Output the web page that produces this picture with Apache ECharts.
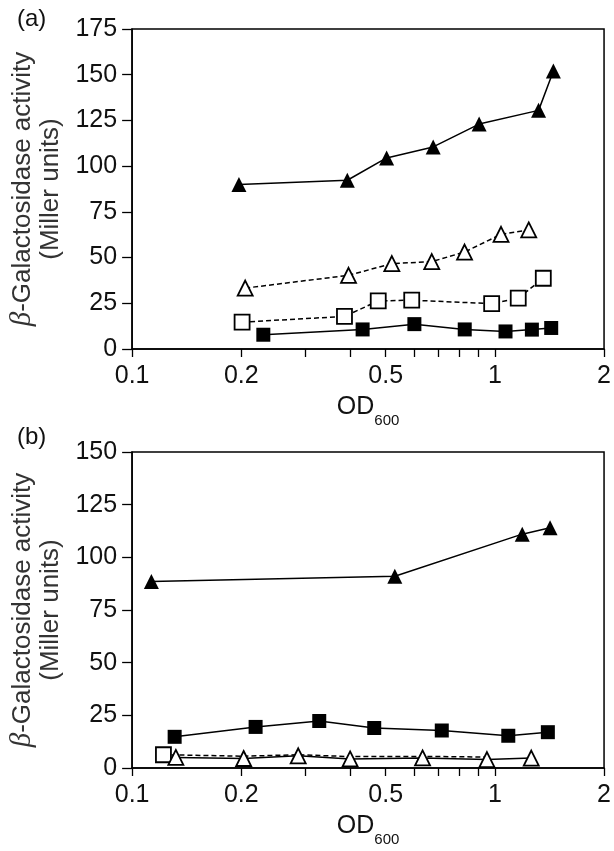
<!DOCTYPE html>
<html><head><meta charset="utf-8">
<script src="https://cdn.jsdelivr.net/npm/echarts@6/dist/echarts.min.js"></script>
<style>html,body{margin:0;padding:0;background:#fff}#c{width:614px;height:851px}</style>
</head><body><div id="c"></div>
<script>
// ---- axis ticks ----
const xTickLabels = [0.1, 0.2, 0.5, 1, 2];
const xTickMarks = [0.1, 0.2, 0.3, 0.4, 0.5, 0.6, 0.7, 0.8, 0.9, 1, 2];
const aYMax = 175, bYMax = 150, yStep = 25;

// ---- panel (a) ----
const aFilledTriX = [0.197, 0.392, 0.503, 0.676, 0.905, 1.32, 1.45];
const aFilledTriY = [90, 92.3, 104.5, 110.5, 123, 130.5, 152];
const aOpenTriX = [0.205, 0.395, 0.52, 0.67, 0.825, 1.04, 1.24];
const aOpenTriY = [33.3, 40.3, 46.7, 47.8, 53, 62.7, 65.1];
const aOpenSqX = [0.201, 0.385, 0.477, 0.59, 0.98, 1.16, 1.36];
const aOpenSqY = [14.7, 17.8, 26.3, 26.7, 24.8, 27.8, 38.7];
const aFilledSqX = [0.23, 0.432, 0.6, 0.826, 1.07, 1.265, 1.43];
const aFilledSqY = [7.8, 10.7, 13.6, 10.7, 9.6, 10.6, 11.5];

// ---- panel (b) ----
const bFilledTriX = [0.113, 0.53, 1.19, 1.42];
const bFilledTriY = [88.5, 91, 111, 114];
const bFilledSqX = [0.131, 0.219, 0.328, 0.465, 0.714, 1.089, 1.40];
const bFilledSqY = [14.8, 19.5, 22.3, 19, 17.8, 15.3, 17];
const bOpenTriX = [0.132, 0.203, 0.287, 0.399, 0.632, 0.951, 1.26];
const bOpenTriY = [5, 4.5, 5.8, 4.3, 4.8, 4, 4.7];
const bOpenSqX = [0.122, 0.203, 0.287, 0.399, 0.632, 0.951];
const bOpenSqY = [6.3, 5.6, 6.3, 5.4, 5.5, 5.2];
const bOpenSqShown = [true, false, false, false, false, false];

const FONT = 'Liberation Sans, Arial, Helvetica, sans-serif';
const pts = (xs, ys) => xs.map((x, i) => [x, ys[i]]);

function xAxisCfg(gi) {
  return {
    type: 'log', logBase: 10, gridIndex: gi, min: 0.1, max: 2,
    name: 'OD{sub|600}', nameLocation: 'middle', nameGap: 38,
    nameTextStyle: { fontFamily: FONT, fontSize: 25, color: '#111',
      rich: { sub: { fontFamily: FONT, fontSize: 15, color: '#111', padding: [26, 0, 0, 0] } } },
    axisLine: { show: true, lineStyle: { color: '#000', width: 1.5 } },
    axisTick: { show: true, inside: false, length: 8, lineStyle: { color: '#000', width: 1.3 }, customValues: xTickMarks },
    axisLabel: { fontFamily: FONT, fontSize: 25, color: '#111', margin: 15, customValues: xTickLabels,
      formatter: v => String(+v.toFixed(2)) },
    splitLine: { show: false }, minorTick: { show: false }
  };
}
function yAxisCfg(gi, max) {
  return {
    type: 'value', gridIndex: gi, min: 0, max: max, interval: yStep,
    name: '{beta|β}-Galactosidase activity\n(Miller units)', nameLocation: 'middle', nameRotate: 90, nameGap: 50,
    nameTextStyle: { fontFamily: FONT, fontSize: 26, color: '#333', lineHeight: 28, align: 'center',
      rich: { beta: { fontFamily: 'Liberation Serif, serif', fontStyle: 'italic', fontSize: 29, color: '#333' } } },
    axisLine: { show: true, lineStyle: { color: '#000', width: 1.5 } },
    axisTick: { show: true, inside: false, length: 10, lineStyle: { color: '#000', width: 1.3 } },
    axisLabel: { fontFamily: FONT, fontSize: 25, color: '#111', margin: 15 },
    splitLine: { show: false }
  };
}
function ser(xi, data, symbol, filled, dashed, size) {
  return {
    type: 'line', xAxisIndex: xi, yAxisIndex: xi, data: data,
    symbol: symbol, symbolSize: size, showSymbol: true, z: 3,
    lineStyle: { color: '#000', width: 1.5, type: dashed ? [5, 3] : 'solid' },
    itemStyle: { color: filled ? '#000' : '#fff', borderColor: '#000', borderWidth: filled ? 0 : 1.8, opacity: 1 },
    emphasis: { disabled: true }
  };
}

const bOpenSqData = bOpenSqX.map((x, i) => ({ value: [x, bOpenSqY[i]], symbol: bOpenSqShown[i] ? 'rect' : 'none' }));

const chart = echarts.init(document.getElementById('c'), null, { renderer: 'canvas' });
chart.setOption({
  animation: false,
  backgroundColor: '#fff',
  title: [
    { text: '(a)', left: 12, top: 2, textStyle: { fontFamily: FONT, fontSize: 24, fontWeight: 'normal', color: '#111' } },
    { text: '(b)', left: 12, top: 420, textStyle: { fontFamily: FONT, fontSize: 24, fontWeight: 'normal', color: '#111' } }
  ],
  grid: [
    { left: 124, right: 8, top: 29, height: 320, show: true, borderColor: '#000', borderWidth: 1.5 },
    { left: 124, right: 8, top: 452, height: 316, show: true, borderColor: '#000', borderWidth: 1.5 }
  ],
  xAxis: [xAxisCfg(0), xAxisCfg(1)],
  yAxis: [yAxisCfg(0, aYMax), yAxisCfg(1, bYMax)],
  series: [
    ser(0, pts(aFilledTriX, aFilledTriY), 'triangle', true, false, 15),
    ser(0, pts(aOpenTriX, aOpenTriY), 'triangle', false, true, 15),
    ser(0, pts(aOpenSqX, aOpenSqY), 'rect', false, true, 15),
    ser(0, pts(aFilledSqX, aFilledSqY), 'rect', true, false, 14),
    ser(1, pts(bFilledTriX, bFilledTriY), 'triangle', true, false, 15),
    ser(1, pts(bFilledSqX, bFilledSqY), 'rect', true, false, 14),
    ser(1, bOpenSqData, 'rect', false, true, 15),
    ser(1, pts(bOpenTriX, bOpenTriY), 'triangle', false, false, 15)
  ]
});
</script>
</body></html>
